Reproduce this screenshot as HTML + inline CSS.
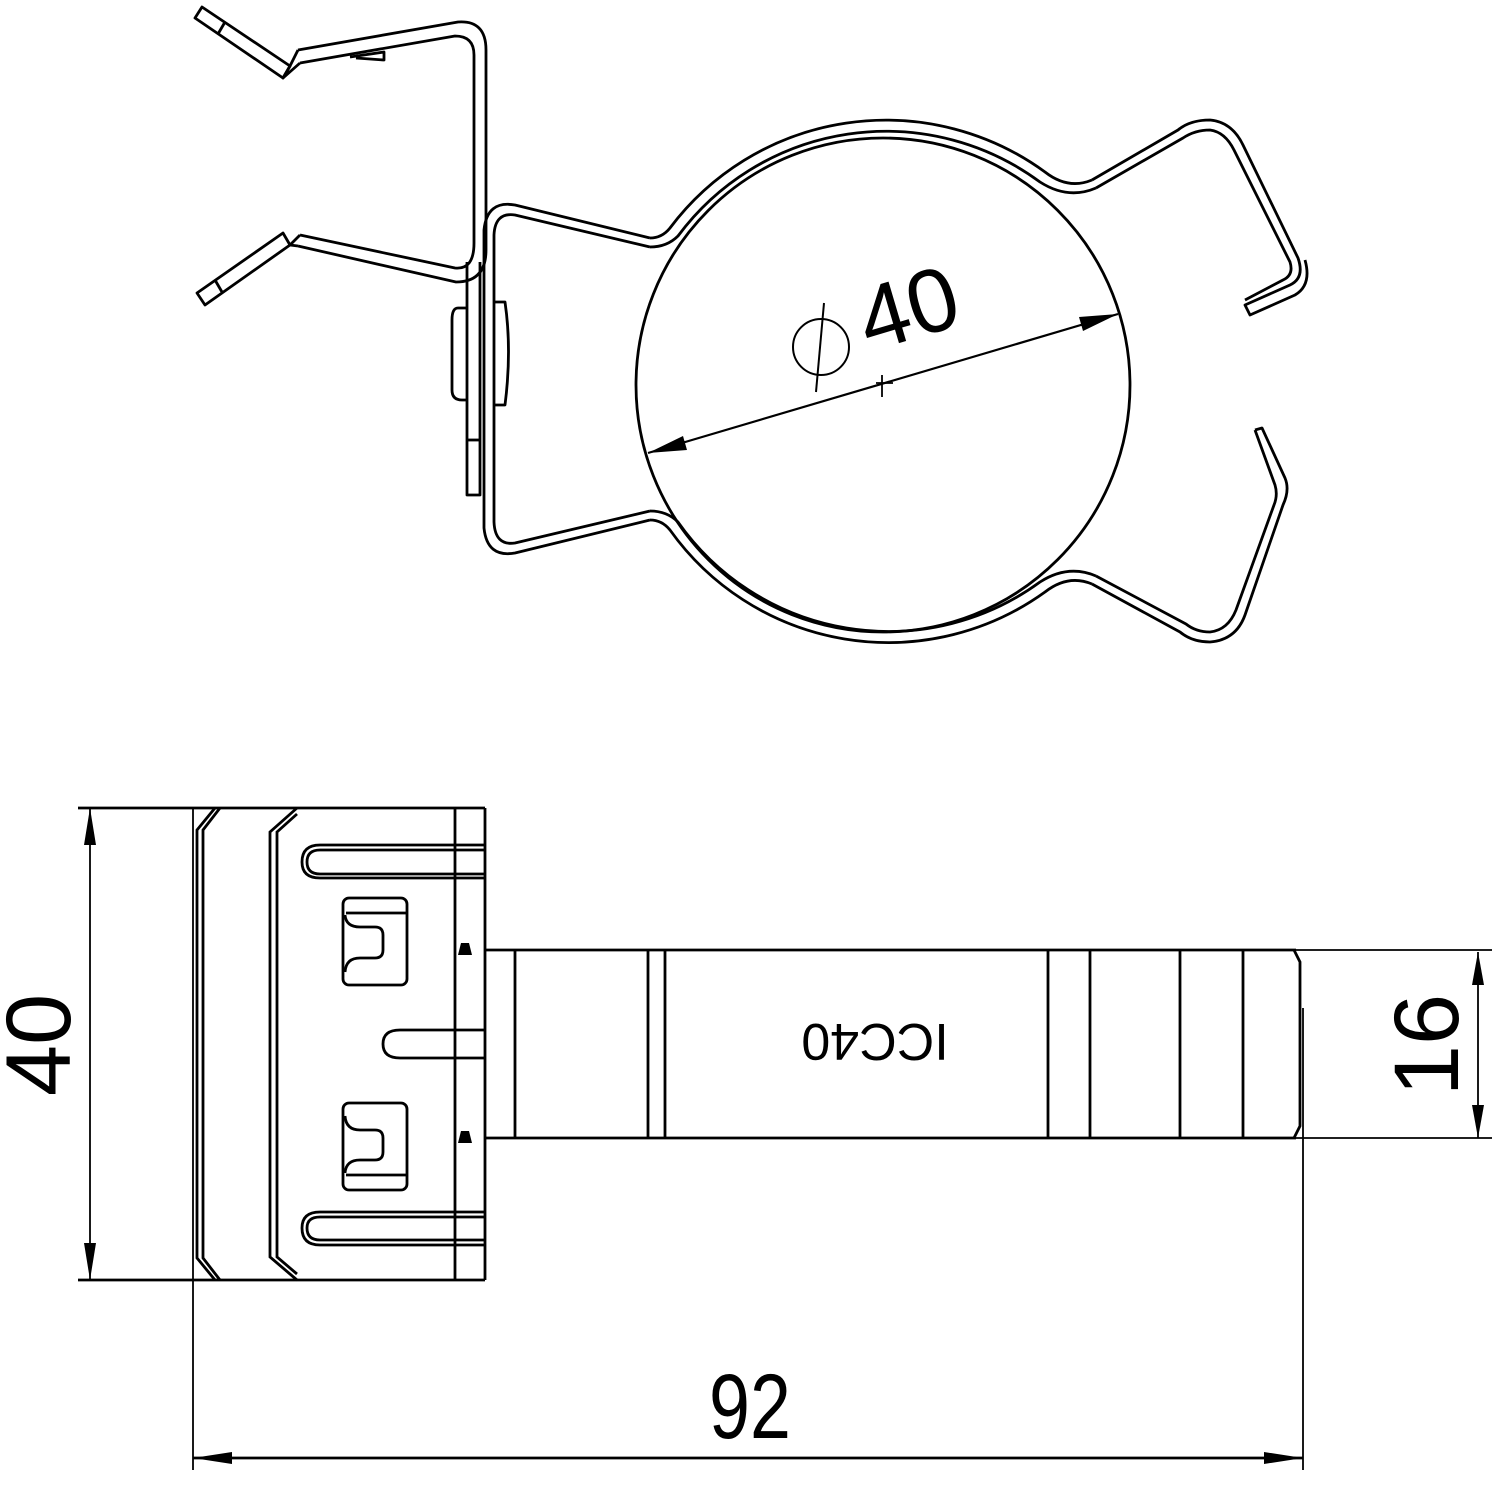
<!DOCTYPE html>
<html><head><meta charset="utf-8"><style>
html,body{margin:0;padding:0;background:#fff;}
svg{display:block;}
text{font-family:"Liberation Sans",sans-serif;fill:#000;}
</style></head><body>
<svg width="1500" height="1500" viewBox="0 0 1500 1500" xmlns="http://www.w3.org/2000/svg">
<g fill="none" stroke="#000" stroke-width="2.8" stroke-linejoin="round">
<circle cx="883" cy="385" r="247"/>
<path d="M650,238 Q662,238 670,228 A270,270 0 0 1 1045,172 Q1068,190 1092,180"/>
<path d="M650,247 Q667,247 678,236 A259,259 0 0 1 1040,182 Q1068,200 1096,188"/>
<path d="M650,520 Q662,520 670,530 A268,268 0 0 0 1045,592 Q1068,574 1092,584"/>
<path d="M650,511 Q667,511 678,522 A257,257 0 0 0 1040,582 Q1068,564 1096,576"/>
<path d="M650,238 L515,205 Q487,200 484,230 L484,528 Q487,558 515,553 L650,520"/>
<path d="M650,247 L515,215 Q495,212 494,235 L494,522 Q495,546 515,543 L650,511"/>
<path d="M467,262 L467,495 L480,495 L480,262"/>
<line x1="467" y1="440" x2="480" y2="440"/>
<path d="M467,308 L458,308 Q452,308 452,320 L452,390 Q452,400 462,400 L467,400"/>
<path d="M494,302 L505,302 Q512,350 505,405 L494,405"/>
<path d="M298,50 L458,22 Q486,20 486,50 L486,250 Q486,282 456,282 L298,246"/>
<path d="M300,63 L455,36 Q474,36 474,55 L474,243 Q474,270 455,268 L300,235"/>
<path d="M298,50 L290,66 L283,78 L300,63"/>
<polygon points="202,7 290,66 283,78 195,18"/>
<line x1="225" y1="22" x2="218" y2="34"/>
<path d="M300,235 L290,245 L298,246"/>
<polygon points="197,293 205,305 290,245 283,233"/>
<line x1="215" y1="280" x2="222" y2="292"/>
<path d="M350,57 L384,52 L384,60 L356,58"/>
<path d="M1092,180 L1178,130 Q1190,120 1210,120 Q1232,122 1243,145 L1298,258 Q1305,278 1290,285 L1245,305 L1250,315 L1295,295 Q1312,285 1305,260"/>
<path d="M1096,188 L1183,138 Q1195,130 1210,130 Q1225,132 1234,150 L1290,262 Q1294,275 1283,280 L1245,300"/>
<path d="M1255,430 L1262,428 L1285,478 Q1290,490 1283,505 L1245,615 Q1236,640 1210,642 Q1192,642 1180,632 L1092,584"/>
<path d="M1255,430 L1275,485 Q1278,495 1274,505 L1236,610 Q1228,630 1210,632 Q1196,632 1186,624 L1096,576"/>
<line x1="648" y1="453" x2="1118" y2="314" stroke-width="2.2"/>
<line x1="876" y1="383" x2="893" y2="383" stroke-width="1.8"/>
<line x1="882" y1="375" x2="882" y2="397" stroke-width="1.8"/>
<circle cx="821" cy="347" r="28" stroke-width="2"/>
<line x1="824" y1="303" x2="816" y2="392" stroke-width="2"/>
</g>
<polygon points="648,453 683,436 687,450" fill="#000"/>
<polygon points="1118,314 1083,331 1079,317" fill="#000"/>
<text x="0" y="0" font-size="90" transform="translate(869,352) rotate(-16.5)">40</text>

<g fill="none" stroke="#000" stroke-width="2.8">
<line x1="78" y1="808" x2="485" y2="808"/>
<line x1="78" y1="1280" x2="485" y2="1280"/>
<line x1="90" y1="808" x2="90" y2="1280" stroke-width="1.8"/>
<line x1="193" y1="808" x2="193" y2="1470" stroke-width="1.8"/>
<line x1="485" y1="808" x2="485" y2="1280"/>
<line x1="455" y1="808" x2="455" y2="1280"/>
<path d="M215,808 L197,830 L197,1258 L215,1280"/>
<path d="M220,808 L203,830 L203,1258 L220,1280"/>
<path d="M297,808 L270,832 L270,1257 L297,1280"/>
<path d="M297,814 L277,832 L277,1257 L297,1274"/>
<path d="M485,845 L320,845 Q302,845 302,862 Q302,878 320,878 L485,878"/>
<path d="M485,850 L320,850 Q307,850 307,862 Q307,874 320,874 L485,874"/>
<path d="M485,1030 L400,1030 Q383,1030 383,1044 Q383,1058 400,1058 L485,1058"/>
<path d="M485,1212 L320,1212 Q302,1212 302,1228 Q302,1245 320,1245 L485,1245"/>
<path d="M485,1217 L320,1217 Q307,1217 307,1228 Q307,1240 320,1240 L485,1240"/>
<rect x="343" y="898" width="64" height="87" rx="6"/>
<path d="M346,913 L407,913 M345,915 Q346,927 360,927 L375,927 Q383,927 383,935 L383,950 Q383,958 375,958 L360,958 Q346,958 345,972"/>
<rect x="343" y="1103" width="64" height="87" rx="6"/>
<path d="M346,1175 L407,1175 M345,1116 Q346,1130 360,1130 L375,1130 Q383,1130 383,1138 L383,1152 Q383,1160 375,1160 L360,1160 Q346,1160 345,1173"/>
<line x1="485" y1="950" x2="1296" y2="950"/>
<line x1="485" y1="1138" x2="1296" y2="1138"/>
<line x1="1296" y1="950" x2="1492" y2="950" stroke-width="1.8"/>
<line x1="1296" y1="1138" x2="1492" y2="1138" stroke-width="1.8"/>
<line x1="515" y1="950" x2="515" y2="1138"/>
<line x1="648" y1="950" x2="648" y2="1138"/>
<line x1="665" y1="950" x2="665" y2="1138"/>
<line x1="1048" y1="950" x2="1048" y2="1138"/>
<line x1="1090" y1="950" x2="1090" y2="1138"/>
<line x1="1180" y1="950" x2="1180" y2="1138"/>
<line x1="1243" y1="950" x2="1243" y2="1138"/>
<path d="M1294,950 L1300,962 L1300,1126 L1294,1138"/>
<line x1="1303" y1="1008" x2="1303" y2="1470" stroke-width="1.8"/>
<line x1="1478" y1="952" x2="1478" y2="1138" stroke-width="1.8"/>
<line x1="193" y1="1458" x2="1303" y2="1458"/>
</g>
<path d="M461,943 L469,943 L472,955 L458,955 Z" fill="#000"/>
<path d="M461,1131 L469,1131 L472,1143 L458,1143 Z" fill="#000"/>
<polygon points="90,808 84,845 96,845" fill="#000"/>
<polygon points="90,1280 84,1243 96,1243" fill="#000"/>
<polygon points="1478,952 1472,985 1484,985" fill="#000"/>
<polygon points="1478,1138 1472,1105 1484,1105" fill="#000"/>
<polygon points="193,1458 232,1452 232,1464" fill="#000"/>
<polygon points="1303,1458 1264,1452 1264,1464" fill="#000"/>
<text font-size="52" transform="translate(875,1024) rotate(180)" text-anchor="middle">ICC40</text>
<text font-size="92" transform="translate(70,1045) rotate(-90)" text-anchor="middle">40</text>
<text font-size="92" transform="translate(1458,1045) rotate(-90)" text-anchor="middle">16</text>
<text font-size="92" x="750" y="1438" text-anchor="middle" transform="translate(750,0) scale(0.8,1) translate(-750,0)">92</text>
</svg>
</body></html>
